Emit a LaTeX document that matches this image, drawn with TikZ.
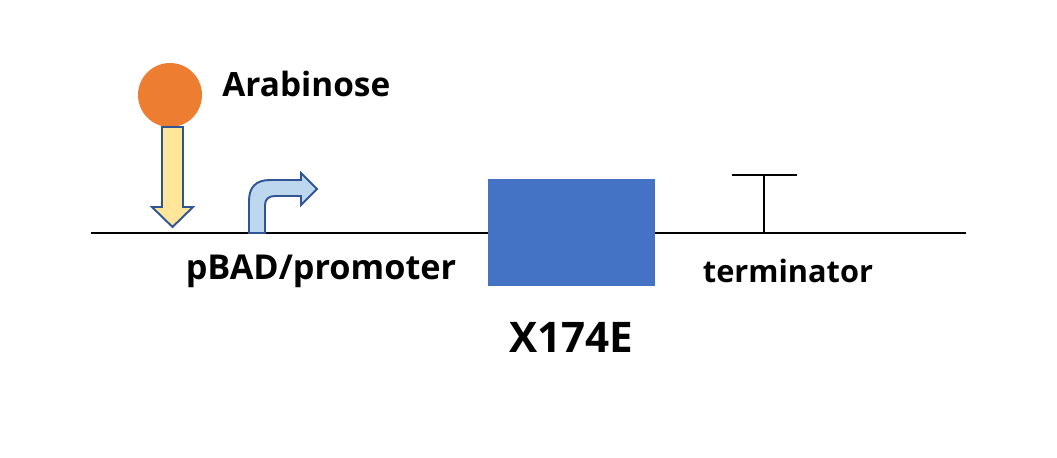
\documentclass[tikz,border=0pt]{standalone}
\usepackage{fontspec}
\setsansfont{Open Sans}
\definecolor{orangeball}{HTML}{ED7D31}
\definecolor{yellowfill}{HTML}{FFE699}
\definecolor{bluefill}{HTML}{BDD7EE}
\definecolor{geneblue}{HTML}{4472C4}
\definecolor{edgeblue}{HTML}{2F5597}
\tikzset{
  label text/.style={font=\sffamily\bfseries\fontsize{#1}{20}\selectfont,inner sep=0pt},
  label text/.default=19,
  arrow shape/.style={draw=edgeblue,line width=1.1pt,line join=miter},
}
\begin{document}
\begin{tikzpicture}[x=0.02cm,y=-0.02cm]
\useasboundingbox (0,0) rectangle (1057,457);
% DNA strand
\coordinate (dnaL) at (91,233);
\coordinate (dnaR) at (966,233);
\draw[line width=1.6pt] (dnaL)--(dnaR);
% arabinose and its arrow
\fill[orangeball] (170,95) circle (32);
\node[label text,anchor=west] (ara) at (222,84) {Arabinose};
\draw[arrow shape,fill=yellowfill] (162,127)--(183,127)--(183,207)--(193,207)--(172.5,227)--(152,207)--(162,207)--cycle;
% promoter
\draw[arrow shape,fill=bluefill] (249,233)--(249,201) .. controls (249,187) and (256,180) .. (270,180)--(301,180)--(301,173)--(317,189)--(301,205)--(301,196)--(275,196) .. controls (269,196) and (265,199) .. (265,205)--(265,233)--cycle;
\node[label text=19.5] (prom) at (321,271) {pBAD/promoter};
% gene
\fill[geneblue] (488,179) rectangle (655,286);
\node[label text=24] (gene) at (571.5,337) {X174E};
% terminator
\coordinate (termB) at (764,233);
\coordinate (termT) at (764,175);
\draw[line width=1.6pt] (termB)--(termT);
\draw[line width=1.6pt] (732,175)--(797,175);
\node[label text=17.5] (term) at (788,271) {terminator};
\end{tikzpicture}
\end{document}
